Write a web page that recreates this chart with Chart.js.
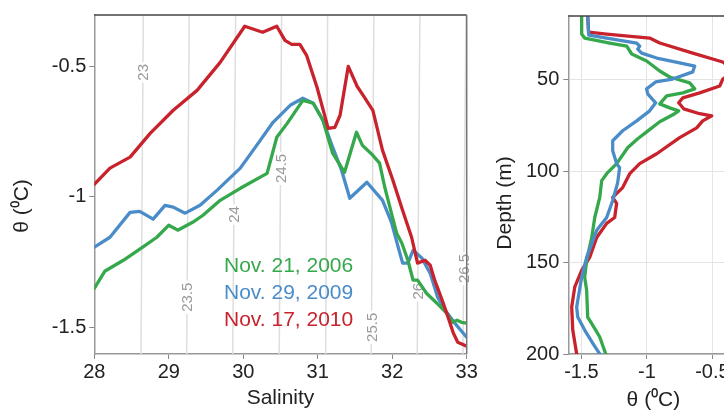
<!DOCTYPE html>
<html><head><meta charset="utf-8">
<script src="https://cdn.jsdelivr.net/npm/chart.js@4.4.0/dist/chart.umd.min.js"></script>
<style>
html,body{margin:0;padding:0;background:#fff;width:724px;height:411px;overflow:hidden;position:relative;}
#c1{position:absolute;left:0;top:0;width:480px;height:411px;}
#c2{position:absolute;left:480px;top:0;width:280px;height:411px;}
</style></head><body>
<canvas id="c1" width="480" height="411"></canvas>
<canvas id="c2" width="280" height="411"></canvas>
<script>
// ---------- data ----------
const seriesLabels = ['Nov. 21, 2006', 'Nov. 29, 2009', 'Nov. 17, 2010'];
const seriesColors = ['#35a84c', '#4a8cc8', '#c8232d'];

// T-S diagram (left panel)
const sal2006 = [28.00,28.14,28.39,28.65,28.84,29.00,29.12,29.32,29.46,29.69,29.96,30.32,30.45,30.59,30.80,30.94,31.07,31.20,31.36,31.52,31.60,31.74,31.83,31.90,31.99,32.06,32.13,32.21,32.28,32.34,32.46,32.60,32.73,32.81,32.87,32.93,33.00];
const th2006  = [-1.349,-1.284,-1.242,-1.192,-1.154,-1.108,-1.127,-1.097,-1.070,-1.013,-0.967,-0.910,-0.772,-0.719,-0.631,-0.642,-0.707,-0.833,-0.906,-0.753,-0.803,-0.841,-0.871,-0.963,-1.063,-1.139,-1.177,-1.242,-1.318,-1.318,-1.368,-1.406,-1.444,-1.479,-1.471,-1.479,-1.482];
const sal2009 = [28.00,28.21,28.48,28.61,28.79,28.95,29.06,29.22,29.42,29.65,29.96,30.18,30.40,30.63,30.80,30.94,31.07,31.20,31.32,31.43,31.66,31.87,31.99,32.08,32.14,32.21,32.28,32.40,32.51,32.61,32.71,32.84,32.94,33.00];
const th2009  = [-1.192,-1.154,-1.059,-1.055,-1.085,-1.032,-1.039,-1.062,-1.032,-0.974,-0.890,-0.803,-0.715,-0.650,-0.623,-0.642,-0.707,-0.810,-0.898,-1.005,-0.944,-1.013,-1.097,-1.192,-1.253,-1.253,-1.204,-1.234,-1.292,-1.383,-1.433,-1.482,-1.516,-1.536];
const sal2010 = [28.00,28.21,28.48,28.75,29.06,29.38,29.69,30.02,30.26,30.45,30.56,30.65,30.76,30.85,30.99,31.14,31.23,31.30,31.41,31.53,31.61,31.74,31.87,32.01,32.14,32.26,32.34,32.44,32.51,32.57,32.67,32.75,32.82,32.88,33.00];
const th2010  = [-0.952,-0.890,-0.848,-0.757,-0.669,-0.593,-0.486,-0.348,-0.371,-0.348,-0.402,-0.417,-0.417,-0.459,-0.581,-0.738,-0.734,-0.688,-0.501,-0.578,-0.612,-0.669,-0.822,-0.937,-1.052,-1.154,-1.253,-1.242,-1.261,-1.318,-1.394,-1.459,-1.520,-1.555,-1.570];

// density (sigma-theta) contours
const sigmaLevels      = [23, 23.5, 24, 24.5, 25, 25.5, 26, 26.5];
const contourTheta     = [-1.6, -0.305];
const contourSalBottom = [28.627, 29.240, 29.858, 30.483, 31.106, 31.718, 32.336, 32.95];
const contourSalTop    = [28.658, 29.275, 29.898, 30.515, 31.133, 31.754, 32.372, 32.99];
const labelTheta       = [-0.524, -1.383, -1.067, -0.891, null, -1.498, -1.360, -1.273];

// depth profiles (right panel)
const thd2006 = [-1.498,-1.498,-1.475,-1.284,-1.154,-1.116,-1.002,-0.902,-0.826,-0.673,-0.635,-0.726,-0.849,-0.902,-0.826,-0.757,-0.788,-0.902,-1.002,-1.070,-1.147,-1.231,-1.307,-1.345,-1.360,-1.398,-1.421,-1.460,-1.475,-1.460,-1.452,-1.406,-1.360,-1.314];
const dep2006 = [15,24.9,27.1,29.8,31.5,35.8,39.6,45.1,48.4,51.6,54.9,57.1,58.7,63.1,65.3,66.9,68.5,72.9,78.4,82.2,87.1,95.8,101.3,105.1,114.3,125.3,136.2,148.7,158.0,165.1,179.8,185.2,190.7,200];
const thd2009 = [-1.452,-1.444,-1.078,-1.055,-1.070,-1.040,-0.925,-0.750,-0.635,-0.650,-0.803,-0.933,-1.002,-0.994,-0.933,-0.979,-1.078,-1.185,-1.261,-1.261,-1.231,-1.208,-1.223,-1.261,-1.307,-1.383,-1.460,-1.498,-1.536,-1.528,-1.475,-1.414,-1.360];
const dep2009 = [15,25.5,29.8,31.5,33.1,35.3,38.0,40.7,42.4,45.6,49.5,51.1,54.9,57.6,62.5,66.9,72.4,77.8,83.3,88.7,95.8,98.0,106.2,116.0,125.3,132.3,147.1,158.0,174.3,179.8,186.9,194.0,200];
const thd2010 = [-1.452,-1.445,-1.307,-0.979,-0.902,-0.650,-0.421,-0.33,-0.421,-0.444,-0.597,-0.726,-0.757,-0.719,-0.597,-0.505,-0.574,-0.620,-0.750,-0.925,-1.055,-1.131,-1.185,-1.261,-1.231,-1.246,-1.307,-1.383,-1.437,-1.498,-1.551,-1.574,-1.566,-1.536];
const dep2010 = [15,23.8,24.9,27.1,29.8,35.3,40.2,45.0,49.5,53.3,57.1,59.8,62.5,65.8,68.5,69.6,72.4,76.2,81.6,90.4,95.8,101.3,108.9,114.3,117.6,125.3,128.5,136.2,147.1,154.2,163.4,174.3,186.9,200];

// tick labels
const salTicks   = [28, 29, 30, 31, 32, 33];
const thetaTicks = [-1.5, -1, -0.5];
const depthTicks = [50, 100, 150, 200];

// ---------- helpers ----------
const FAM = "'Liberation Sans', Arial, Helvetica, sans-serif";
const pts = (xs, ys) => xs.map((v, i) => ({x: v, y: ys[i]}));
const curve = (label, data, color) => ({
  label, data, borderColor: color, backgroundColor: color, borderWidth: 3.3,
  showLine: true, pointRadius: 0, tension: 0, fill: false,
  borderJoinStyle: 'round', borderCapStyle: 'round'
});
const fixTicks = vals => s => { s.ticks = vals.map(v => ({value: v})); };

const framePlugin = {
  id: 'frame',
  afterDraw(chart, args, o) {
    const {ctx, chartArea: a} = chart;
    ctx.save();
    ctx.lineWidth = 1.5;
    ctx.strokeStyle = '#444';
    ctx.beginPath(); ctx.moveTo(a.left, a.top); ctx.lineTo(a.right, a.top); ctx.stroke();
    if (o.right) {
      ctx.strokeStyle = '#777';
      ctx.beginPath(); ctx.moveTo(a.right, a.top); ctx.lineTo(a.right, a.bottom); ctx.stroke();
    }
    ctx.restore();
  }
};

const textPlugin = {
  id: 'texts',
  afterDraw(chart, args, o) {
    const ctx = chart.ctx;
    (o.items || []).forEach(it => {
      ctx.save();
      ctx.font = it.font;
      ctx.fillStyle = it.color;
      ctx.translate(it.x, it.y);
      if (it.rot) ctx.rotate(it.rot);
      ctx.textAlign = it.align || 'left';
      ctx.textBaseline = it.baseline || 'alphabetic';
      ctx.fillText(it.text, 0, 0);
      ctx.restore();
    });
  }
};

const NCURVE = 3;
const contourLabelPlugin = {
  id: 'contourLabels',
  afterDatasetDraw(chart, args) {
    if (args.index !== NCURVE) return;
    const {ctx, scales: {x: xs, y: ys}} = chart;
    sigmaLevels.forEach((s, i) => {
      const t = labelTheta[i];
      if (t === null) return;
      const f = (t - contourTheta[0]) / (contourTheta[1] - contourTheta[0]);
      const sal = contourSalBottom[i] + f * (contourSalTop[i] - contourSalBottom[i]);
      const px = xs.getPixelForValue(sal), py = ys.getPixelForValue(t);
      ctx.save();
      ctx.font = '15px ' + FAM;
      ctx.translate(px, py);
      ctx.rotate(-Math.PI / 2);
      const txt = String(s);
      const w = ctx.measureText(txt).width;
      ctx.fillStyle = '#fff';
      ctx.fillRect(-w / 2 - 2, -7, w + 4, 14);
      ctx.fillStyle = '#9a9a9a';
      ctx.textAlign = 'center';
      ctx.textBaseline = 'middle';
      ctx.fillText(txt, 0, 1);
      ctx.restore();
    });
  }
};

const tickFont = {size: 20, family: FAM};
const titleFont = {size: 21, family: FAM, lineHeight: 1};

// ---------- left chart: T-S ----------
const leftSets = [
  curve(seriesLabels[2], pts(sal2010, th2010), seriesColors[2]),
  curve(seriesLabels[0], pts(sal2006, th2006), seriesColors[0]),
  curve(seriesLabels[1], pts(sal2009, th2009), seriesColors[1])
];
sigmaLevels.forEach((s, i) => {
  leftSets.push({
    label: 'sigma ' + s,
    data: [{x: contourSalBottom[i], y: contourTheta[0]}, {x: contourSalTop[i], y: contourTheta[1]}],
    borderColor: '#dedede', borderWidth: 1.5, showLine: true, pointRadius: 0, fill: false
  });
});

new Chart(document.getElementById('c1'), {
  type: 'scatter',
  data: {datasets: leftSets},
  plugins: [contourLabelPlugin, framePlugin, textPlugin],
  options: {
    responsive: false, animation: false, events: [],
    layout: {padding: {left: 0, top: 14.7, right: 13.3, bottom: 0}},
    plugins: {
      legend: {display: false}, tooltip: {enabled: false},
      frame: {right: true},
      texts: {items: [
        {text: seriesLabels[0], x: 224, y: 271.5, font: '21px ' + FAM, color: seriesColors[0]},
        {text: seriesLabels[1], x: 224, y: 298.5, font: '21px ' + FAM, color: seriesColors[1]},
        {text: seriesLabels[2], x: 224, y: 326, font: '21px ' + FAM, color: seriesColors[2]},
        {text: 'θ (⁰C)', x: 22, y: 206, rot: -Math.PI / 2, align: 'center', baseline: 'middle', font: '21px ' + FAM, color: '#222'}
      ]}
    },
    scales: {
      x: {
        type: 'linear', min: 28, max: 33,
        afterBuildTicks: fixTicks(salTicks),
        afterFit: s => { s.height = 57; },
        grid: {drawOnChartArea: false, drawTicks: true, tickLength: 5, color: '#888'},
        border: {display: true, color: '#999', width: 1.5},
        ticks: {font: tickFont, color: '#222', padding: 1, maxRotation: 0, callback: v => String(v)},
        title: {display: true, text: 'Salinity', font: titleFont, color: '#222', padding: {top: 0, bottom: 2.5}}
      },
      y: {
        type: 'linear', min: -1.6, max: -0.305,
        afterBuildTicks: fixTicks(thetaTicks),
        afterFit: s => { s.width = 94.3; },
        grid: {drawOnChartArea: false, drawTicks: true, tickLength: 5, color: '#888'},
        border: {display: true, color: '#999', width: 1.5},
        ticks: {font: tickFont, color: '#222', padding: 3, callback: v => String(v)}
      }
    }
  }
});

// ---------- right chart: depth profiles ----------
new Chart(document.getElementById('c2'), {
  type: 'scatter',
  data: {datasets: [
    curve(seriesLabels[1], pts(thd2009, dep2009), seriesColors[1]),
    curve(seriesLabels[0], pts(thd2006, dep2006), seriesColors[0]),
    curve(seriesLabels[2], pts(thd2010, dep2010), seriesColors[2])
  ]},
  plugins: [framePlugin, textPlugin],
  options: {
    responsive: false, animation: false, events: [],
    layout: {padding: {left: 0, top: 14.7, right: 21.4, bottom: 0}},
    plugins: {
      legend: {display: false}, tooltip: {enabled: false},
      frame: {right: true},
      texts: {items: [
        {text: 'Depth (m)', x: 25, y: 203, rot: -Math.PI / 2, align: 'center', baseline: 'middle', font: '21px ' + FAM, color: '#222'}
      ]}
    },
    scales: {
      x: {
        type: 'linear', min: -1.6, max: -0.3,
        afterBuildTicks: fixTicks(thetaTicks),
        afterFit: s => { s.height = 57; },
        grid: {drawOnChartArea: true, drawTicks: true, tickLength: 5, color: '#e4e4e4', tickColor: '#888'},
        border: {display: true, color: '#999', width: 1.5},
        ticks: {font: tickFont, color: '#222', padding: 1, maxRotation: 0, callback: v => String(v)},
        title: {display: true, text: 'θ (⁰C)', font: titleFont, color: '#222', padding: {top: 0, bottom: 0}}
      },
      y: {
        type: 'linear', min: 15, max: 200, reverse: true,
        afterBuildTicks: fixTicks(depthTicks),
        afterFit: s => { s.width = 88.3; },
        grid: {drawOnChartArea: true, drawTicks: true, tickLength: 5, color: '#e4e4e4', tickColor: '#888'},
        border: {display: true, color: '#999', width: 1.5},
        ticks: {font: tickFont, color: '#222', padding: 4, callback: v => String(v)}
      }
    }
  }
});
</script>
</body></html>
